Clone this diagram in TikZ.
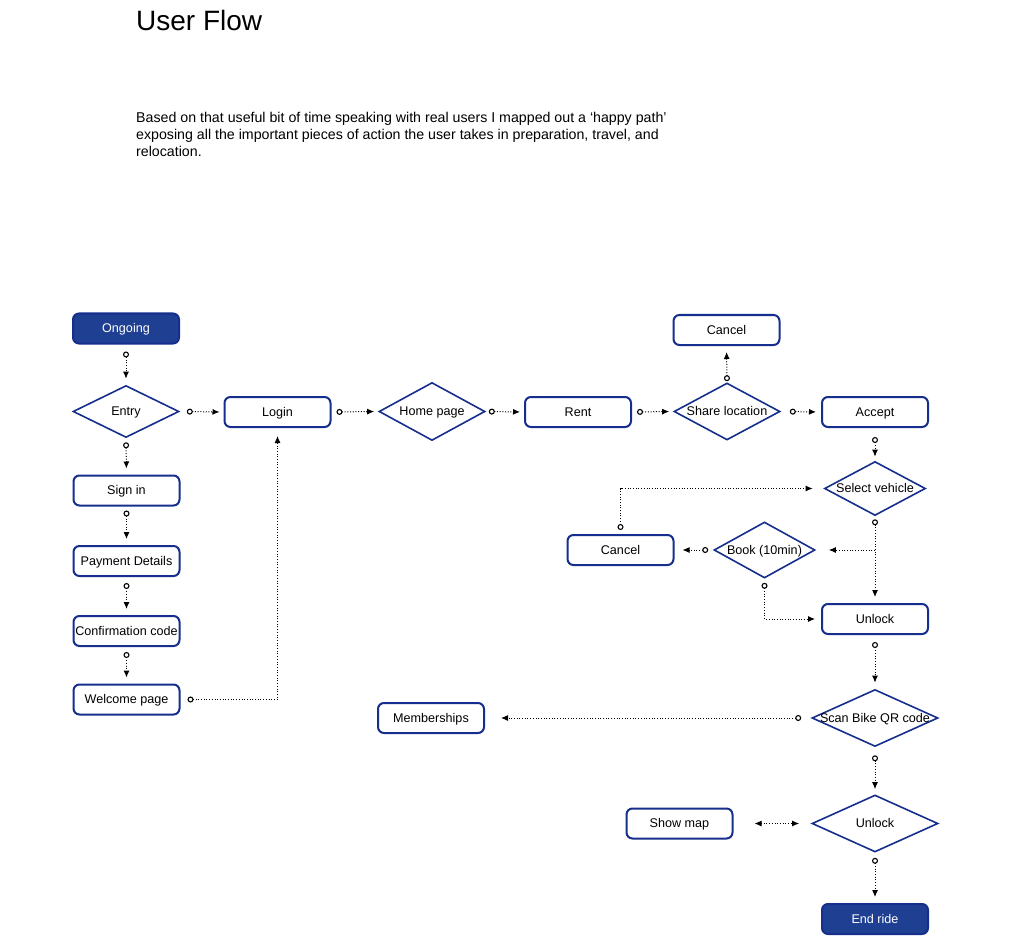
\documentclass[tikz,border=0pt]{standalone}
\usepackage{fontspec}
\setmainfont{Liberation Sans}
\usetikzlibrary{shapes.geometric,arrows.meta}
\definecolor{navy}{RGB}{22,46,140}
\definecolor{navyfill}{RGB}{31,64,146}
\begin{document}
\begin{tikzpicture}[x=1pt,y=-1pt,
  lbl/.style={font=\fontsize{12.6}{14}\selectfont, text height=9pt, text depth=0.5pt},
  box/.style={lbl, draw=navy, line width=2pt, rounded corners=6pt,
    minimum width=106pt, minimum height=30pt, inner sep=0pt, fill=white},
  term/.style={box, fill=navyfill, text=white},
  dia/.style={lbl, diamond, draw=navy, line width=1.6pt, minimum width=#1,
    minimum height=56pt, inner sep=0pt, fill=white},
  dia/.default=106pt,
  link/.style={draw=black, line width=1pt, dash pattern=on 1pt off 1.7pt},
  flow/.style={link, {Circle[open,length=6pt,width=6pt,line width=1.1pt]}-{Latex[length=7pt,width=6pt]}},
  flowend/.style={link, -{Latex[length=7pt,width=6pt]}},
  flowboth/.style={link, {Latex[length=7pt,width=6pt]}-{Latex[length=7pt,width=6pt]}}
]
\useasboundingbox (0,0) rectangle (1010,936);

% heading and intro
\node[anchor=base west, inner sep=0pt, font=\fontsize{28}{34}\selectfont] (title) at (136,31) {User Flow};
\node[anchor=north west, inner sep=0pt, align=left, font=\fontsize{14.2}{17}\selectfont] (intro) at (136,112)
  {Based on that useful bit of time speaking with real users I mapped out a ‘happy path’\\
   exposing all the important pieces of action the user takes in preparation, travel, and\\
   relocation.};

% left column
\node[term] (ongoing) at (126,328.5) {Ongoing};
\node[dia, minimum height=52pt] (entry) at (126,411.5) {\makebox[0pt]{Entry}};
\node[box] (signin) at (126.5,490.5) {Sign in};
\node[box] (payment) at (126.5,561) {Payment Details};
\node[box] (confirm) at (126.5,631) {Confirmation code};
\node[box] (welcome) at (126.5,699.5) {Welcome page};

% top row
\node[box] (login) at (277.5,412) {Login};
\node[dia, minimum height=58pt] (home) at (432,411.5) {\makebox[0pt]{Home page}};
\node[box] (rent) at (578,412) {Rent};
\node[dia, minimum height=57pt] (share) at (727,411.5) {\makebox[0pt]{Share location}};
\node[box] (cancelA) at (726.5,330) {Cancel};
\node[box] (accept) at (875,412) {Accept};

% right column
\node[dia=101pt, minimum height=54pt] (select) at (875,488.5) {\makebox[0pt]{Select vehicle}};
\node[dia=101pt] (book) at (764.5,550) {\makebox[0pt]{Book (10min)}};
\node[box] (cancelB) at (620.5,550) {Cancel};
\node[box] (unlockA) at (875,619) {Unlock};
\node[dia=126pt, minimum height=57pt] (scan) at (875,718) {\makebox[0pt]{Scan Bike QR code}};
\node[box] (members) at (431,718) {Memberships};
\node[dia=126pt, minimum height=57pt] (unlockB) at (875,823.5) {\makebox[0pt]{Unlock}};
\node[box] (showmap) at (679.5,823.5) {Show map};
\node[term] (endride) at (875,919) {End ride};

% connectors: left column
\draw[flow, shorten <=7pt, shorten >=6pt] (ongoing.south) -- (entry.north);
\draw[flow, shorten <=4pt, shorten >=6pt] (entry.south) -- (signin.north);
\draw[flow, shorten <=4pt, shorten >=6pt] (signin.south) -- (payment.north);
\draw[flow, shorten <=6pt, shorten >=6pt] (payment.south) -- (confirm.north);
\draw[flow, shorten <=5pt, shorten >=6pt] (confirm.south) -- (welcome.north);
\draw[flow, shorten <=7pt, shorten >=8pt] (welcome.east) -| (login.south);

% connectors: top row
\draw[flow, shorten <=7pt, shorten >=4pt] (entry.east) -- (login.west);
\draw[flow, shorten <=5pt, shorten >=4pt] (login.east) -- (home.west);
\draw[flow, shorten <=3pt, shorten >=4pt] (home.east) -- (rent.west);
\draw[flow, shorten <=5pt, shorten >=4pt] (rent.east) -- (share.west);
\draw[flow, shorten <=1pt, shorten >=6pt] (share.north) -- (cancelA.south);
\draw[flow, shorten <=9pt, shorten >=5pt] (share.east) -- (accept.west);
\draw[flow, shorten <=9pt, shorten >=4pt] (accept.south) -- (select.north);

% connectors: vehicle selection and booking
\draw[flow, shorten <=3pt, shorten >=6pt] (select.south) -- (unlockA.north);
\coordinate (fork) at (select.south |- book.east);
\draw[flowend, shorten >=13pt] (fork) -- (book.east);
\draw[flow, shorten <=5pt, shorten >=8pt] (book.west) -- (cancelB.east);
\draw[flow, shorten <=4pt, shorten >=11pt] (cancelB.north) |- (select.west);
\draw[flow, shorten <=4pt, shorten >=6pt] (book.south) |- (unlockA.west);

% connectors: ride
\draw[flow, shorten <=7pt, shorten >=6pt] (unlockA.south) -- (scan.north);
\draw[flow, shorten <=10pt, shorten >=16pt] (scan.west) -- (members.east);
\draw[flow, shorten <=8pt, shorten >=5pt] (scan.south) -- (unlockB.north);
\draw[flowboth, shorten <=21pt, shorten >=12pt] (showmap.east) -- (unlockB.west);
\draw[flow, shorten <=5pt, shorten >=6pt] (unlockB.south) -- (endride.north);
\end{tikzpicture}
\end{document}
